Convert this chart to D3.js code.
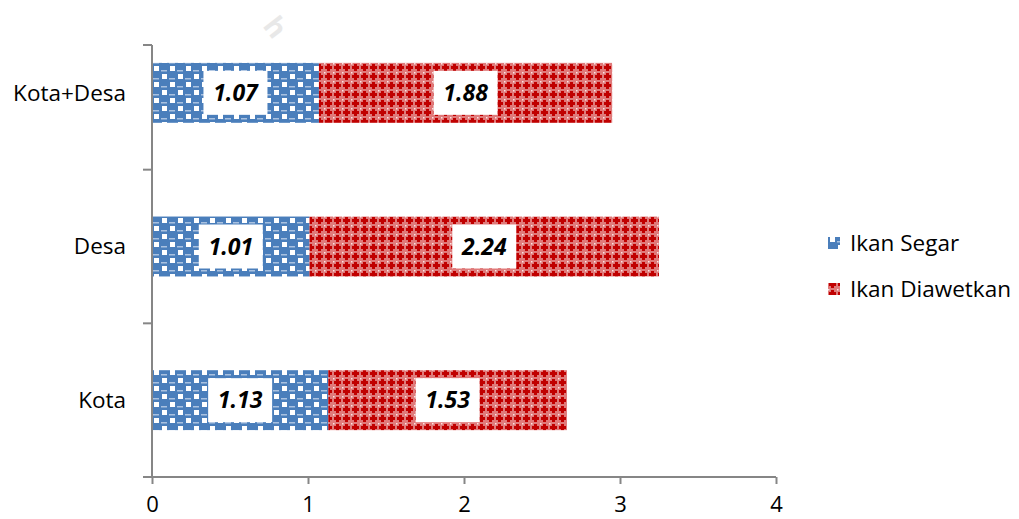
<!DOCTYPE html>
<html>
<head>
<meta charset="utf-8">
<script src="https://cdn.jsdelivr.net/npm/d3@7/dist/d3.min.js"></script>
<style>
  body { margin: 0; background: #fff; }
  svg { display: block; font-family: "Open Sans", "Noto Sans", sans-serif; }
</style>
</head>
<body>
<svg id="chart"></svg>
<script>
// chart data
const categories = ['Kota', 'Desa', 'Kota+Desa'];
const seriesNames = ['Ikan Segar', 'Ikan Diawetkan'];
const ikanSegar = [1.13, 1.01, 1.07];
const ikanDiawetkan = [1.53, 2.24, 1.88];
const xTicks = [0, 1, 2, 3, 4];

const width = 1019, height = 519;
const svg = d3.select('#chart').attr('width', width).attr('height', height);

// patterns that mimic the excel fills
const defs = svg.append('defs');
const blue = defs.append('pattern').attr('id', 'pat-blue')
  .attr('patternUnits', 'userSpaceOnUse').attr('width', 16).attr('height', 16);
blue.append('rect').attr('width', 16).attr('height', 16).attr('fill', '#4a7ebb');
blue.append('rect').attr('x', 10).attr('y', 2).attr('width', 5).attr('height', 5).attr('fill', '#fff');
blue.append('rect').attr('x', 2).attr('y', 10).attr('width', 5).attr('height', 5).attr('fill', '#fff');
blue.append('rect').attr('x', 1).attr('y', 6).attr('width', 6).attr('height', 1.5).attr('fill', '#a9c1e0');
blue.append('rect').attr('x', 9).attr('y', 14).attr('width', 6).attr('height', 1.5).attr('fill', '#a9c1e0');

const red = defs.append('pattern').attr('id', 'pat-red')
  .attr('patternUnits', 'userSpaceOnUse').attr('width', 9).attr('height', 9);
red.append('rect').attr('width', 9).attr('height', 9).attr('fill', '#e07a7a');
red.append('rect').attr('x', 3).attr('y', 1).attr('width', 3).attr('height', 7).attr('fill', '#c00000');
red.append('rect').attr('x', 1).attr('y', 3).attr('width', 7).attr('height', 3).attr('fill', '#c00000');
red.append('rect').attr('x', 0).attr('y', 0).attr('width', 1.5).attr('height', 1.5).attr('fill', '#fbe3e3');

const patterns = ['url(#pat-blue)', 'url(#pat-red)'];

// faint watermark
svg.append('text')
  .attr('transform', 'translate(262,26) rotate(52)')
  .attr('font-size', 28).attr('font-weight', 'bold')
  .attr('fill', '#e8e8e8')
  .text('h');

const x = d3.scaleLinear().domain([0, 4]).range([152, 776]);
const y = d3.scaleBand().domain(categories).range([477, 16]).paddingInner(0.61).paddingOuter(0.305);

const axisColor = '#868686';

// stacked segments
const rows = categories.map((c, i) => ({ cat: c, vals: [ikanSegar[i], ikanDiawetkan[i]] }));
const segs = [];
rows.forEach(r => {
  let start = 0;
  r.vals.forEach((v, k) => {
    segs.push({ cat: r.cat, k: k, x0: start, x1: start + v, v: v });
    start += v;
  });
});

const g = svg.append('g');
g.selectAll('rect.bar')
  .data(segs)
  .enter()
  .append('rect')
  .attr('class', 'bar')
  .attr('x', d => x(d.x0))
  .attr('y', d => y(d.cat))
  .attr('width', d => x(d.x1) - x(d.x0))
  .attr('height', y.bandwidth())
  .attr('fill', d => patterns[d.k]);

// value labels in white boxes
const lab = g.selectAll('g.lab')
  .data(segs)
  .enter()
  .append('g')
  .attr('class', 'lab')
  .attr('transform', d => `translate(${(x(d.x0) + x(d.x1)) / 2},${y(d.cat) + y.bandwidth() / 2})`);
lab.append('rect')
  .attr('x', -32).attr('y', -22).attr('width', 64).attr('height', 44)
  .attr('fill', '#fff');
lab.append('text')
  .attr('text-anchor', 'middle')
  .attr('dy', '0.36em')
  .attr('font-size', 23)
  .attr('font-weight', 'bold')
  .attr('font-style', 'italic')
  .attr('fill', '#000')
  .text(d => d.v.toFixed(2));

// y axis line + ticks
const yTop = 45;
g.append('line')
  .attr('x1', 152).attr('x2', 152).attr('y1', yTop).attr('y2', 477)
  .attr('stroke', axisColor).attr('stroke-width', 2);
const bounds = [477].concat(categories.map(c => y(c) - y.step() * y.paddingInner() / 2));
bounds[bounds.length - 1] = yTop;
g.selectAll('line.ytick')
  .data(bounds)
  .enter()
  .append('line')
  .attr('x1', 143).attr('x2', 152)
  .attr('y1', d => d).attr('y2', d => d)
  .attr('stroke', axisColor).attr('stroke-width', 2);

// category labels
g.selectAll('text.cat')
  .data(categories)
  .enter()
  .append('text')
  .attr('x', 126)
  .attr('y', d => y(d) + y.bandwidth() / 2)
  .attr('dy', '0.35em')
  .attr('text-anchor', 'end')
  .attr('font-size', 22.5)
  .attr('fill', '#000')
  .text(d => d);

// x axis
const xAxis = svg.append('g')
  .attr('transform', 'translate(0,477)')
  .call(d3.axisBottom(x).tickValues(xTicks).tickFormat(d3.format('d')).tickSize(7).tickSizeOuter(0));
xAxis.select('.domain').remove();
xAxis.append('line').attr('x1', 143).attr('x2', 776).attr('stroke', axisColor).attr('stroke-width', 2);
xAxis.selectAll('.tick line').attr('stroke', axisColor).attr('stroke-width', 2);
xAxis.selectAll('.tick text')
  .attr('y', 35).attr('dy', null)
  .attr('font-size', 22).attr('fill', '#000')
  .attr('font-family', '"Open Sans", "Noto Sans", sans-serif');

// legend
const legend = svg.append('g').attr('transform', 'translate(828,243)');
const li = legend.selectAll('g')
  .data(seriesNames)
  .enter()
  .append('g')
  .attr('transform', (d, i) => `translate(0,${i * 46})`);
li.append('rect')
  .attr('x', 0).attr('y', -6).attr('width', 12).attr('height', 12)
  .attr('fill', (d, i) => patterns[i]);
li.append('text')
  .attr('x', 22).attr('dy', '0.35em')
  .attr('font-size', 22.5)
  .attr('fill', '#000')
  .text(d => d);
</script>
</body>
</html>
